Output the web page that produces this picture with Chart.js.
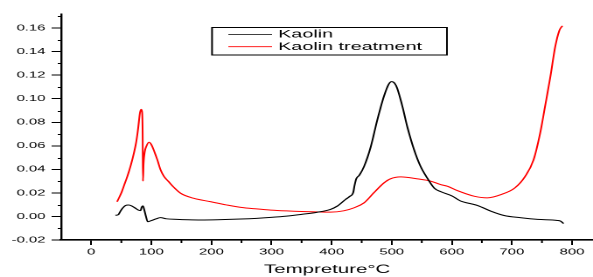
<!DOCTYPE html>
<html>
<head>
<meta charset="utf-8">
<script src="https://cdn.jsdelivr.net/npm/chart.js@4"></script>
<style>
  html, body { margin: 0; padding: 0; background: #fff; overflow: hidden; }
  /* the source figure is stretched sideways, so draw narrow and widen */
  .wrap { width: 339px; height: 277px; transform: scaleX(1.7493); transform-origin: 0 0; }
</style>
</head>
<body>
<div class="wrap"><canvas id="myChart" width="339" height="277"></canvas></div>
<script>
// data
const kaolinT = [40, 45, 48, 52, 57, 62, 67, 72, 78, 82, 84, 86, 88, 91, 94, 100, 108, 115, 125, 143, 160, 182, 210, 249, 275, 299, 325, 350, 375, 398, 410, 423, 430, 436, 438, 441, 446, 454, 465, 476, 487, 495, 500, 505, 509, 518, 526, 537, 548, 559, 571, 582, 600, 615, 630, 643, 665, 687, 715, 743, 776, 781, 786];
const kaolinY = [0.001, 0.0015, 0.004, 0.007, 0.0093, 0.0097, 0.009, 0.0075, 0.0055, 0.005, 0.008, 0.009, 0.006, 0.0, -0.0045, -0.0035, -0.002, -0.001, -0.002, -0.0025, -0.0028, -0.003, -0.0028, -0.0022, -0.0016, -0.0008, 0.0003, 0.0018, 0.0035, 0.006, 0.009, 0.0144, 0.017, 0.0205, 0.026, 0.032, 0.035, 0.0425, 0.059, 0.082, 0.102, 0.1124, 0.1145, 0.113, 0.109, 0.093, 0.076, 0.057, 0.0425, 0.0327, 0.024, 0.021, 0.0175, 0.013, 0.011, 0.0093, 0.0045, 0.0008, -0.0011, -0.0025, -0.0034, -0.004, -0.006];

const treatT = [43, 50, 55, 60, 66, 71, 75, 78, 81, 83, 84.5, 85.5, 86, 87, 89, 92, 96, 100, 105, 110, 115, 121, 128, 135, 149, 170, 199, 225, 249, 275, 299, 325, 350, 380, 398, 420, 437, 454, 470, 487, 498, 515, 543, 565, 582, 593, 609, 637, 659, 682, 705, 722, 736, 747, 755, 764, 772, 779, 784];
const treatY = [0.0125, 0.02, 0.027, 0.034, 0.044, 0.054, 0.064, 0.075, 0.088, 0.091, 0.089, 0.07, 0.03, 0.045, 0.055, 0.06, 0.063, 0.061, 0.055, 0.048, 0.04, 0.034, 0.03, 0.026, 0.0196, 0.0155, 0.0125, 0.0098, 0.0077, 0.0064, 0.0054, 0.0047, 0.0042, 0.0038, 0.0037, 0.0048, 0.0073, 0.0116, 0.02, 0.0285, 0.032, 0.0336, 0.0319, 0.03, 0.027, 0.0256, 0.022, 0.0172, 0.0158, 0.0186, 0.0243, 0.034, 0.048, 0.0707, 0.093, 0.1186, 0.144, 0.158, 0.162];

const seriesNames = ["Kaolin", "Kaolin treatment"];
const seriesColors = ["#000000", "#ff0000"];
const xTitle = "Tempreture°C";

const toPoints = (xs, ys) => xs.map((x, i) => ({ x: x, y: ys[i] }));

const FONT = "'Liberation Sans', Arial, sans-serif";

// minor ticks + boxed legend
const extras = {
  id: "extras",
  afterDraw(chart) {
    const ctx = chart.ctx;
    const xs = chart.scales.x;
    const ys = chart.scales.y;
    const area = chart.chartArea;
    ctx.save();
    ctx.strokeStyle = "#000";
    ctx.lineWidth = 1;
    for (let v = -0.01; v < ys.max; v += 0.02) {
      const py = Math.round(ys.getPixelForValue(v)) + 0.5;
      ctx.beginPath();
      ctx.moveTo(area.left - 2, py);
      ctx.lineTo(area.left, py);
      ctx.stroke();
    }
    for (let t = 50; t < xs.max; t += 100) {
      const px = xs.getPixelForValue(t);
      ctx.beginPath();
      ctx.moveTo(px, area.bottom);
      ctx.lineTo(px, area.bottom + 3);
      ctx.stroke();
    }

    // legend
    ctx.strokeRect(121.2, 27.5, 134.3, 27.5);
    ctx.font = "11.3px " + FONT;
    ctx.textBaseline = "middle";
    ctx.fillStyle = "#000";
    chart.data.datasets.forEach((ds, i) => {
      const ly = 34.5 + i * 12.2;
      ctx.strokeStyle = ds.borderColor;
      ctx.lineWidth = 0.8;
      ctx.beginPath();
      ctx.moveTo(130.5, ly);
      ctx.lineTo(155.5, ly);
      ctx.stroke();
      ctx.fillText(ds.label, 159, ly);
    });
    ctx.restore();
  },
};

const ctx = document.getElementById("myChart").getContext("2d");

new Chart(ctx, {
  type: "line",
  data: {
    datasets: [
      {
        label: seriesNames[0],
        data: toPoints(kaolinT, kaolinY),
        borderColor: seriesColors[0],
        borderWidth: 1,
        pointRadius: 0,
        cubicInterpolationMode: "monotone",
        fill: false,
      },
      {
        label: seriesNames[1],
        data: toPoints(treatT, treatY),
        borderColor: seriesColors[1],
        borderWidth: 1,
        pointRadius: 0,
        cubicInterpolationMode: "monotone",
        fill: false,
      },
    ],
  },
  options: {
    responsive: false,
    animation: false,
    devicePixelRatio: 2,
    layout: { padding: { top: 14, right: 0, left: 0, bottom: 0 } },
    plugins: {
      legend: { display: false },
      tooltip: { enabled: false },
    },
    scales: {
      x: {
        type: "linear",
        min: -50,
        max: 835,
        afterFit: (scale) => { scale.height = 37; },
        border: { display: true, color: "#000", width: 1.6 },
        grid: { drawOnChartArea: false, drawTicks: true, tickLength: 5, color: "#000" },
        ticks: {
          stepSize: 100,
          includeBounds: false,
          autoSkip: false,
          maxRotation: 0,
          padding: 2,
          color: "#000",
          font: { family: FONT, size: 8.5 },
          callback: (v) => String(v),
        },
        title: {
          display: true,
          text: xTitle,
          color: "#000",
          padding: { top: 0, bottom: 0 },
          font: { family: FONT, size: 11.7 },
        },
      },
      y: {
        min: -0.02,
        max: 0.172,
        afterFit: (scale) => { scale.width = 35; },
        border: { display: true, color: "#000", width: 1.2 },
        grid: { drawOnChartArea: false, drawTicks: true, tickLength: 5.5, color: "#000" },
        ticks: {
          stepSize: 0.02,
          includeBounds: false,
          padding: 3.5,
          color: "#000",
          font: { family: FONT, size: 8.5 },
          callback: (v) => Number(v).toFixed(2),
        },
      },
    },
  },
  plugins: [extras],
});
</script>
</body>
</html>
